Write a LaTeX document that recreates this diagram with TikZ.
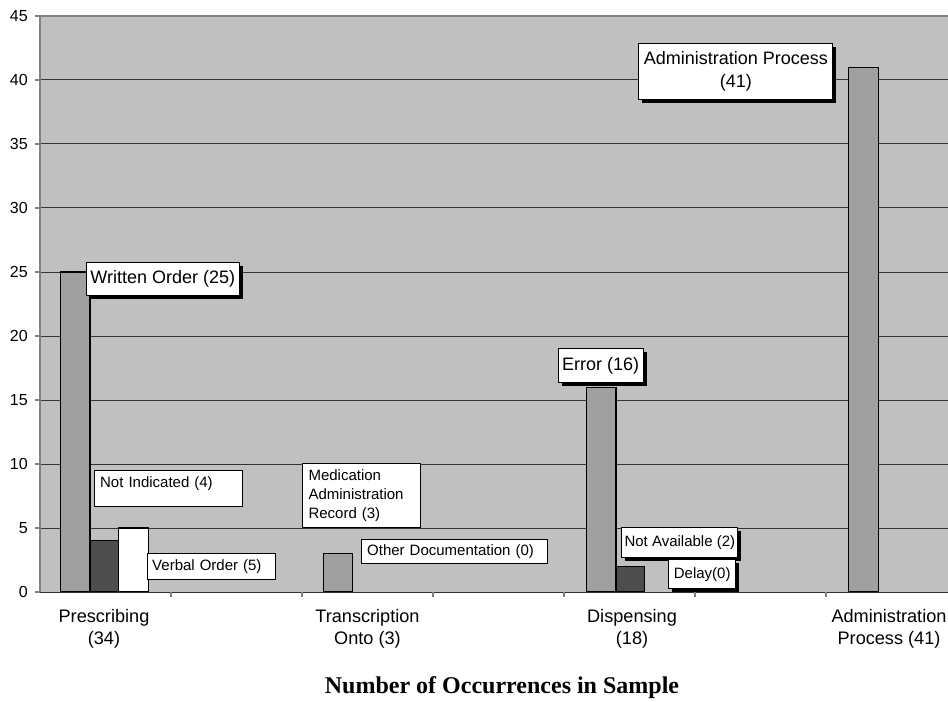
\documentclass[tikz,border=0pt]{standalone}
\usepackage{fontspec}
\setmainfont{Liberation Sans}
\newfontfamily\titlefont{Liberation Serif}
\usepackage{xcolor}
\usepackage{tikz}
\usetikzlibrary{shadows}
\definecolor{plotbg}{HTML}{C0C0C0}
\definecolor{barmid}{HTML}{A0A0A0}
\definecolor{bardark}{HTML}{4D4D4D}

\begin{document}
\begin{tikzpicture}[x=0.75pt,y=-0.75pt,
  grd/.style={line width=0.75pt,black!80},
  ax/.style={line width=0.9pt,black!50},
  br/.style={draw=black,line width=0.8pt},
  lb/.style={draw=black,fill=white,line width=0.8pt,anchor=north west,inner sep=0pt},
  sh/.style={lb,drop shadow={shadow xshift=2.5pt,shadow yshift=-2.5pt,fill=black,opacity=1}},
  big/.style={font=\fontsize{13.5}{17}\selectfont},
  sm/.style={font=\fontsize{11.25}{14.25}\selectfont},
  yl/.style={font=\fontsize{12}{14}\selectfont,anchor=east,inner sep=0pt},
  cat/.style={font=\fontsize{13.6}{16.5}\selectfont,align=center}
]
\useasboundingbox (0,0) rectangle (948,702);
%--- plot area and grid ---
\fill[plotbg] (40,16) rectangle (948,592);
\draw[grd](40,528)--(948,528); \draw[grd](40,464)--(948,464); \draw[grd](40,400)--(948,400);
\draw[grd](40,336)--(948,336); \draw[grd](40,272)--(948,272); \draw[grd](40,208)--(948,208);
\draw[grd](40,144)--(948,144); \draw[grd](40,80)--(948,80);
\draw[ax](40,16)--(948,16); \draw[ax](40,16)--(40,592);
%--- y axis ---
\draw[ax](35,592)--(40,592); \draw[ax](35,528)--(40,528); \draw[ax](35,464)--(40,464);
\draw[ax](35,400)--(40,400); \draw[ax](35,336)--(40,336); \draw[ax](35,272)--(40,272);
\draw[ax](35,208)--(40,208); \draw[ax](35,144)--(40,144); \draw[ax](35,80)--(40,80);
\draw[ax](35,16)--(40,16);
\node[yl] (y0) at (28,592){0};   \node[yl] (y5) at (28,528){5};
\node[yl] (y10) at (28,464){10}; \node[yl] (y15) at (28,400){15};
\node[yl] (y20) at (28,336){20}; \node[yl] (y25) at (28,272){25};
\node[yl] (y30) at (28,208){30}; \node[yl] (y35) at (28,144){35};
\node[yl] (y40) at (28,80){40};  \node[yl] (y45) at (28,16){45};
%--- bars ---
\draw[br,fill=barmid](60.3,592) rectangle (90,272);
\draw[br,fill=bardark](90,592) rectangle (118.7,540.8);
\draw[br,fill=white](118.7,592) rectangle (148.7,528);
\draw[br,fill=barmid](323.3,592) rectangle (352.7,553.6);
\draw[br,fill=barmid](586.7,592) rectangle (616,387.2);
\draw[br,fill=bardark](616,592) rectangle (644.7,566.4);
\draw[br,fill=barmid](848.7,592) rectangle (878.7,67.2);
%--- x axis ---
\draw[grd](40,592)--(948,592);
\draw[ax](171,592)--(171,597); \draw[ax](302,592)--(302,597); \draw[ax](433,592)--(433,597);
\draw[ax](564,592)--(564,597); \draw[ax](695,592)--(695,597); \draw[ax](826,592)--(826,597);
\node[cat] (presc) at (104,629){Prescribing\\(34)};
\node[cat] (trans) at (367.5,629){Transcription\\Onto (3)};
\node[cat] (disp) at (632,629){Dispensing\\(18)};
\node[cat] (admin) at (889,629){Administration\\Process (41)};
%--- callouts ---
\node[sh,big,minimum width=114.75pt,minimum height=24.75pt] (wo) at (85.7,261.7){Written Order (25)};
\node[lb,sm,text width=103pt,align=left,inner xsep=4pt,text height=12.5pt,text depth=14.5pt] (ni) at (94.3,470.3){Not Indicated (4)};
\node[lb,sm,text width=88.5pt,align=left,inner xsep=3.75pt,minimum height=19.7pt] (vo) at (146.7,553){Verbal Order (5)};
\node[lb,sm,text width=79.5pt,align=left,inner xsep=4.5pt,minimum height=48pt] (mar) at (302,462.7){Medication\\Administration\\Record (3)};
\node[lb,sm,text width=131.5pt,align=left,inner xsep=4pt,minimum height=18pt] (od) at (361.3,539.3){Other Documentation (0)};
\node[sh,big,minimum width=63.75pt,minimum height=25.5pt] (err) at (557.7,348.3){Error (16)};
\node[sh,sm,minimum width=87pt,minimum height=22.5pt] (na) at (621.3,526.7){Not Available (2)};
\node[sh,sm,minimum width=50pt,minimum height=22pt] (dl) at (668.3,559){Delay(0)};
\node[sh,big,align=center,minimum width=145.5pt,minimum height=42.5pt] (ap) at (638.3,42.7){Administration Process\\(41)};
%--- title ---
\node[font=\titlefont\bfseries\fontsize{18}{21}\selectfont,anchor=base] (ttl) at (502,693){Number of Occurrences in Sample};
\end{tikzpicture}
\end{document}
